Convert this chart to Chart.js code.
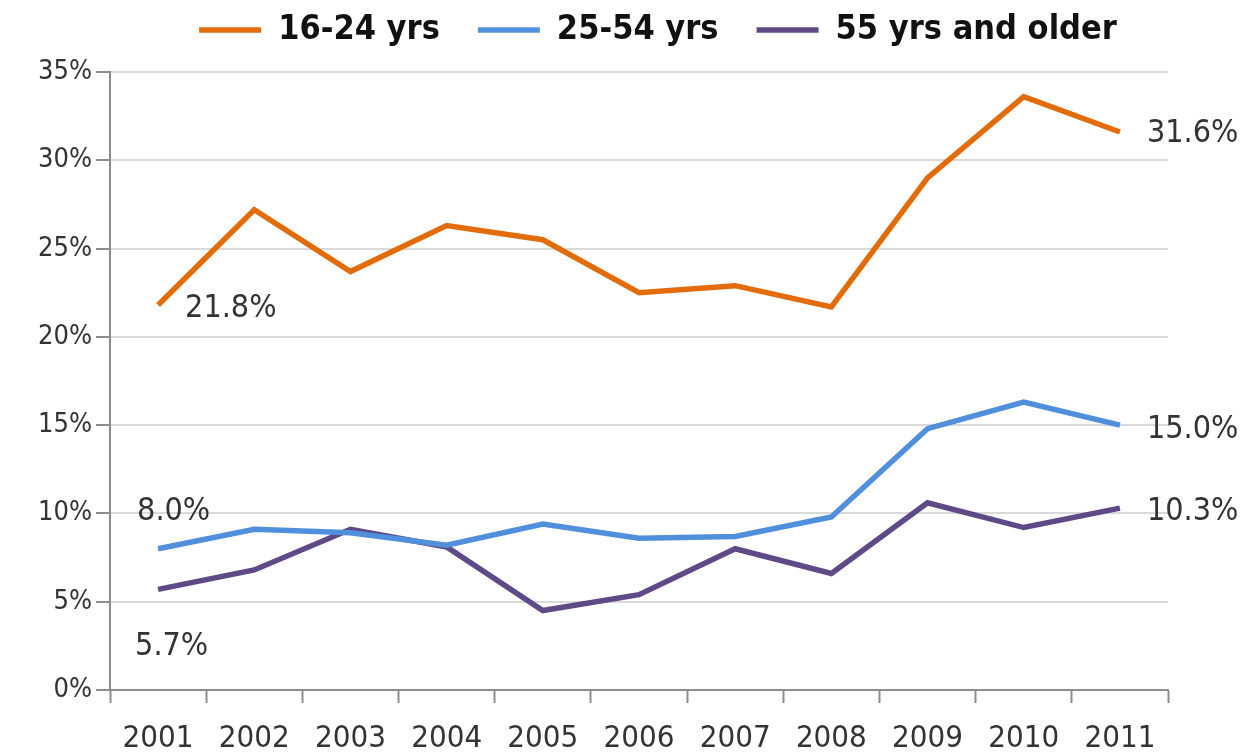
<!DOCTYPE html>
<html>
<head>
<meta charset="utf-8">
<script src="https://cdn.jsdelivr.net/npm/chart.js@4.4.1/dist/chart.umd.min.js"></script>
<style>
  html, body { margin: 0; padding: 0; background: #fff; }
  #wrap { width: 1243px; height: 754px; position: relative; }
</style>
</head>
<body>
<div id="wrap"><canvas id="myChart"></canvas></div>
<script>
const years = ['2001','2002','2003','2004','2005','2006','2007','2008','2009','2010','2011'];
const youth = [21.8, 27.2, 23.7, 26.3, 25.5, 22.5, 22.9, 21.7, 29.0, 33.6, 31.6];
const prime = [8.0, 9.1, 8.9, 8.2, 9.4, 8.6, 8.7, 9.8, 14.8, 16.3, 15.0];
const older = [5.7, 6.8, 9.1, 8.1, 4.5, 5.4, 8.0, 6.6, 10.6, 9.2, 10.3];
const seriesNames = ['16-24 yrs', '25-54 yrs', '55 yrs and older'];
const yTicks = [0, 5, 10, 15, 20, 25, 30, 35];

const FONT = '"DejaVu Sans Condensed", "Liberation Sans Narrow", "DejaVu Sans", sans-serif';
const TXT = '#333333';

// labels at first and last points: [dataset, index, dx, dy]
const endLabels = [
    [0, 0, 27, 4],
    [0, 10, 27, 2],
    [1, 0, -21, -37],
    [1, 10, 27, 5],
    [2, 0, -23, 57],
    [2, 10, 27, 4]
];

const labelPlugin = {
    id: 'endLabels',
    afterLayout(chart) {
        // legend keeps its item spacing but sits higher and further right, like the original
        chart.legend.top -= 25;
        chart.legend.left += 74;
        chart.legend.right += 74;
    },
    afterDatasetsDraw(chart) {
        const ctx = chart.ctx;
        ctx.save();
        ctx.font = '32px ' + FONT;
        ctx.fillStyle = TXT;
        ctx.textBaseline = 'middle';
        ctx.textAlign = 'left';
        endLabels.forEach(function (l) {
            const pt = chart.getDatasetMeta(l[0]).data[l[1]];
            const v = chart.data.datasets[l[0]].data[l[1]];
            ctx.fillText(v.toFixed(1) + '%', pt.x + l[2], pt.y + l[3]);
        });
        ctx.restore();
    }
};

function line(label, data, color) {
    return {
        label: label,
        data: data,
        borderColor: color,
        backgroundColor: color,
        borderWidth: 5.5,
        pointRadius: 0,
        tension: 0,
        borderJoinStyle: 'miter'
    };
}

const ctx = document.getElementById('myChart').getContext('2d');
new Chart(ctx, {
    type: 'line',
    data: {
        labels: years,
        datasets: [
            line(seriesNames[0], youth, '#E36C0A'),
            line(seriesNames[1], prime, '#4F8FDB'),
            line(seriesNames[2], older, '#5E4A86')
        ]
    },
    options: {
        responsive: true,
        maintainAspectRatio: false,
        animation: false,
        layout: { padding: { left: 0, right: 75, top: 0, bottom: 0 } },
        plugins: {
            tooltip: { enabled: false },
            legend: {
                position: 'top',
                maxHeight: 72,
                labels: {
                    usePointStyle: true,
                    pointStyle: 'line',
                    pointStyleWidth: 62,
                    boxHeight: 12,
                    padding: 38,
                    color: '#111',
                    font: { family: FONT, size: 34, weight: 'bold' }
                }
            }
        },
        scales: {
            x: {
                offset: true,
                grid: {
                    offset: true,
                    drawOnChartArea: false,
                    drawTicks: true,
                    tickLength: 13,
                    tickWidth: 2,
                    tickColor: '#8C8C8C'
                },
                border: { color: '#8C8C8C', width: 2 },
                ticks: {
                    color: TXT,
                    padding: 17,
                    maxRotation: 0,
                    font: { family: FONT, size: 31 }
                },
                afterFit: function (s) { s.height = 64; }
            },
            y: {
                min: 0,
                max: 35,
                afterBuildTicks: function (s) {
                    s.ticks = yTicks.map(function (v) { return { value: v }; });
                },
                grid: {
                    color: '#D9D9D9',
                    lineWidth: 2,
                    tickLength: 14,
                    tickColor: '#8C8C8C'
                },
                border: { color: '#8C8C8C', width: 2 },
                ticks: {
                    color: TXT,
                    padding: 4,
                    font: { family: FONT, size: 27 },
                    callback: function (v) { return v + '%'; }
                },
                afterFit: function (s) { s.width = 110; }
            }
        }
    },
    plugins: [labelPlugin]
});
</script>
</body>
</html>
